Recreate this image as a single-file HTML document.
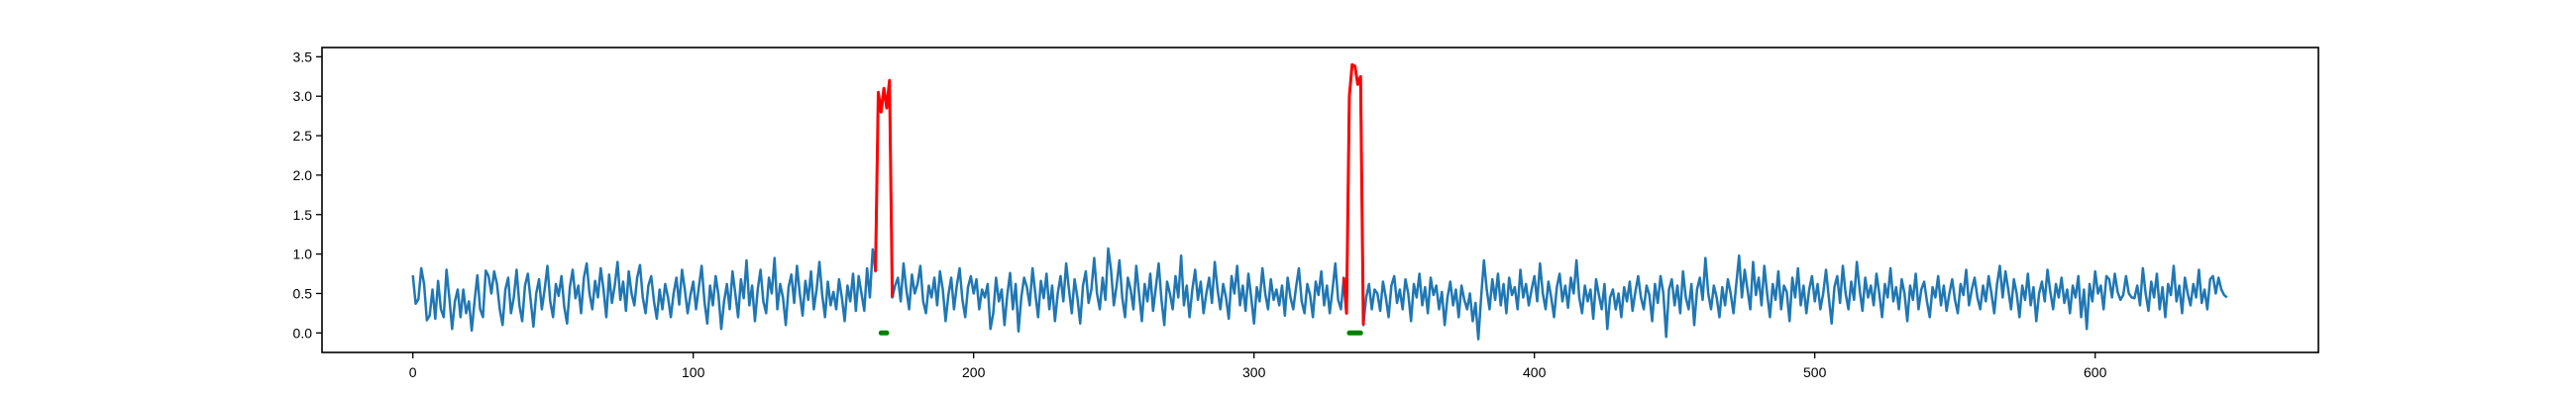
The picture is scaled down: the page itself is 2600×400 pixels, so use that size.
<!DOCTYPE html>
<html><head><meta charset="utf-8"><style>
html,body{margin:0;padding:0;background:#fff;}
svg{display:block;font-family:"Liberation Sans","DejaVu Sans",sans-serif;}
</style></head><body>
<svg id="chart" width="2600" height="400" xmlns="http://www.w3.org/2000/svg">
<rect x="0" y="0" width="2600" height="400" fill="#fff"/>
<g id="grid"></g>
<g id="marks"></g>
<rect x="325" y="48" width="2015" height="308" fill="none" stroke="#000" stroke-width="1.6"/>
<g id="axes"></g>
</svg>
<script>
const values = [0.73,0.37,0.43,0.82,0.62,0.16,0.22,0.55,0.18,0.66,0.3,0.2,0.8,0.45,0.05,0.4,0.55,0.2,0.55,0.25,0.4,0.03,0.4,0.73,0.3,0.2,0.79,0.72,0.5,0.78,
0.62,0.3,0.1,0.55,0.7,0.25,0.45,0.8,0.35,0.15,0.6,0.75,0.42,0.08,0.5,0.68,0.3,0.55,0.85,0.4,0.2,0.62,0.47,0.72,0.33,0.12,0.58,0.8,0.44,0.6,
0.25,0.7,0.88,0.5,0.3,0.66,0.45,0.82,0.55,0.2,0.74,0.38,0.6,0.9,0.42,0.65,0.28,0.78,0.5,0.35,0.7,0.86,0.45,0.25,0.6,0.72,0.4,0.18,0.55,0.3,
0.62,0.45,0.2,0.5,0.7,0.36,0.8,0.55,0.25,0.48,0.65,0.3,0.58,0.85,0.4,0.12,0.6,0.35,0.72,0.48,0.05,0.4,0.62,0.3,0.78,0.5,0.2,0.68,0.44,0.92,
0.35,0.6,0.15,0.55,0.8,0.4,0.25,0.7,0.5,0.95,0.3,0.62,0.45,0.1,0.58,0.74,0.38,0.85,0.5,0.22,0.66,0.42,0.78,0.3,0.55,0.9,0.48,0.2,0.65,0.35,
0.52,0.3,0.68,0.45,0.15,0.6,0.4,0.75,0.28,
0.72,0.5,0.28,0.82,0.45,1.06,0.78,3.05,2.8,3.1,2.85,3.2,0.45,0.6,0.7,0.4,0.88,0.55,0.3,0.74,0.5,0.62,0.85,0.4,0.25,0.6,0.45,0.7,0.35,0.78,
0.55,0.15,0.48,0.7,0.3,0.6,0.82,0.42,0.2,0.58,0.72,0.5,0.68,0.3,0.55,0.45,0.62,0.05,0.25,0.7,0.4,0.55,0.1,0.48,0.76,0.3,0.62,0.02,0.45,0.7,
0.58,0.35,0.82,0.5,0.2,0.66,0.44,0.75,0.3,0.6,0.15,0.5,0.72,0.4,0.88,0.55,0.25,0.68,0.45,0.12,0.6,0.78,0.38,0.55,0.95,0.5,0.3,0.7,0.42,1.07,
0.8,0.35,0.6,0.92,0.45,0.2,0.7,0.55,0.3,0.85,0.5,0.15,0.62,0.4,0.75,0.28,0.58,0.88,0.42,0.1,0.65,0.5,0.3,0.72,0.45,0.98,0.35,0.6,0.2,0.55,
0.8,0.42,0.65,0.25,0.5,0.7,0.38,0.9,0.55,0.3,0.62,0.45,0.18,0.72,0.5,0.85,0.35,0.6,0.28,0.75,0.45,0.12,0.58,0.4,0.82,0.5,0.3,0.68,0.42,0.55,
0.35,0.6,0.22,0.7,0.45,0.3,0.58,0.82,0.4,0.25,0.62,0.48,
0.2,0.65,0.48,0.78,0.35,0.6,0.25,0.55,0.88,0.42,0.3,0.7,0.25,3.0,3.4,3.38,3.15,3.25,0.1,0.45,0.62,0.3,0.55,0.5,0.28,0.65,0.45,0.2,0.6,0.72,
0.38,0.55,0.3,0.68,0.5,0.15,0.62,0.45,0.75,0.35,0.58,0.25,0.7,0.48,0.6,0.3,0.52,0.1,0.45,0.65,0.35,0.55,0.2,0.6,0.42,0.3,0.5,0.15,0.38,-0.08,
0.45,0.92,0.55,0.3,0.68,0.42,0.75,0.35,0.62,0.25,0.7,0.48,0.58,0.3,0.8,0.45,0.62,0.35,0.55,0.72,0.4,0.88,0.5,0.3,0.65,0.45,0.2,0.58,0.75,0.4,
0.6,0.32,0.7,0.5,0.92,0.45,0.25,0.6,0.4,0.55,0.18,0.68,0.48,0.3,0.62,0.05,0.45,0.55,0.3,0.5,0.2,0.58,0.4,0.65,0.28,0.52,0.72,0.45,0.3,0.6,
0.48,0.15,0.62,0.38,0.72,0.5,-0.05,0.55,0.68,0.35,0.6,0.25,0.78,0.45,0.3,0.62,0.1,0.55,0.7,0.42,0.95,0.5,0.3,0.6,0.45,0.2,0.58,0.35,0.68,0.5,
0.25,0.62,0.98,0.45,0.8,0.55,0.3,0.9,0.48,0.7,0.35,0.85,0.5,0.2,0.62,0.42,0.78,0.3,0.6,0.52,0.15,0.7,0.45,0.82,0.35,0.6,0.25,0.55,0.72,0.4,
0.62,0.3,0.5,0.8,0.45,0.12,0.58,0.72,0.38,0.85,0.5,0.3,0.65,0.42,0.9,0.55,0.28,0.7,0.45,0.6,0.35,0.75,0.5,0.2,0.62,0.45,0.82,0.4,0.58,0.3,
0.68,0.5,0.15,0.6,0.42,0.75,0.3,0.55,0.65,0.4,0.2,0.58,0.45,0.72,0.35,0.6,0.28,0.5,0.68,0.42,0.25,0.62,0.48,0.8,0.35,0.55,0.7,0.45,0.3,0.6,
0.4,0.72,0.5,0.25,0.62,0.85,0.45,0.78,0.55,0.3,0.68,0.5,0.2,0.6,0.42,0.75,0.35,0.58,0.15,0.5,0.65,0.4,0.8,0.52,0.3,0.62,0.45,0.7,0.38,0.55,
0.25,0.6,0.45,0.72,0.2,0.55,0.05,0.62,0.4,0.78,0.5,0.6,0.3,0.72,0.68,0.45,0.75,0.52,0.42,0.48,0.72,0.5,0.45,0.44,
0.6,0.35,0.82,0.5,0.28,0.65,0.45,0.75,0.3,0.58,0.2,0.62,0.48,0.85,0.4,0.6,0.25,0.7,0.5,0.35,0.62,0.45,0.8,0.38,0.55,0.3,0.68,0.72,0.5,0.7,0.55,0.48,0.45];
const redRanges = [[165,171],[332,339]];
const greenRanges = [[167,169],[334,338]];
const xTicks = [0,100,200,300,400,500,600];
const yTicks = [0.0,0.5,1.0,1.5,2.0,2.5,3.0,3.5];
const NS="http://www.w3.org/2000/svg";
const X0=416.7, XS=2.83, Y0=336.3, YS=79.7;
const sx=v=>X0+v*XS, sy=v=>Y0-v*YS;
const marks=document.getElementById('marks'), axes=document.getElementById('axes');
function mk(t,a,p){const e=document.createElementNS(NS,t);for(const k in a)e.setAttribute(k,a[k]);p.appendChild(e);return e;}
let d=values.map((v,i)=>(i?'L':'M')+sx(i).toFixed(2)+' '+sy(v).toFixed(2)).join('');
const line=mk('path',{d:d,fill:'none',stroke:'#1f77b4','stroke-width':2.5,'stroke-linejoin':'round'},marks);


redRanges.forEach(r=>{let s='';for(let i=r[0];i<=r[1];i++)s+=(i==r[0]?'M':'L')+sx(i).toFixed(2)+' '+sy(values[i]).toFixed(2);
const p=mk('path',{d:s,fill:'none',stroke:'#ff0000','stroke-width':3,'stroke-linejoin':'round'},marks);

});
greenRanges.forEach(r=>{const p=mk('line',{x1:sx(r[0]),x2:sx(r[1]),y1:sy(0),y2:sy(0),stroke:'#008000','stroke-width':5,'stroke-linecap':'round'},marks);

});
xTicks.forEach(t=>{mk('line',{x1:sx(t),x2:sx(t),y1:356,y2:362,stroke:'#000','stroke-width':1.3},axes);
const tx=mk('text',{x:sx(t),y:381,'text-anchor':'middle','font-size':14,fill:'#000'},axes);tx.textContent=t;

});
yTicks.forEach(t=>{mk('line',{x1:319,x2:325,y1:sy(t),y2:sy(t),stroke:'#000','stroke-width':1.3},axes);
const tx=mk('text',{x:315,y:sy(t)+5,'text-anchor':'end','font-size':14,fill:'#000'},axes);tx.textContent=t.toFixed(1);

});
</script>
</body></html>
